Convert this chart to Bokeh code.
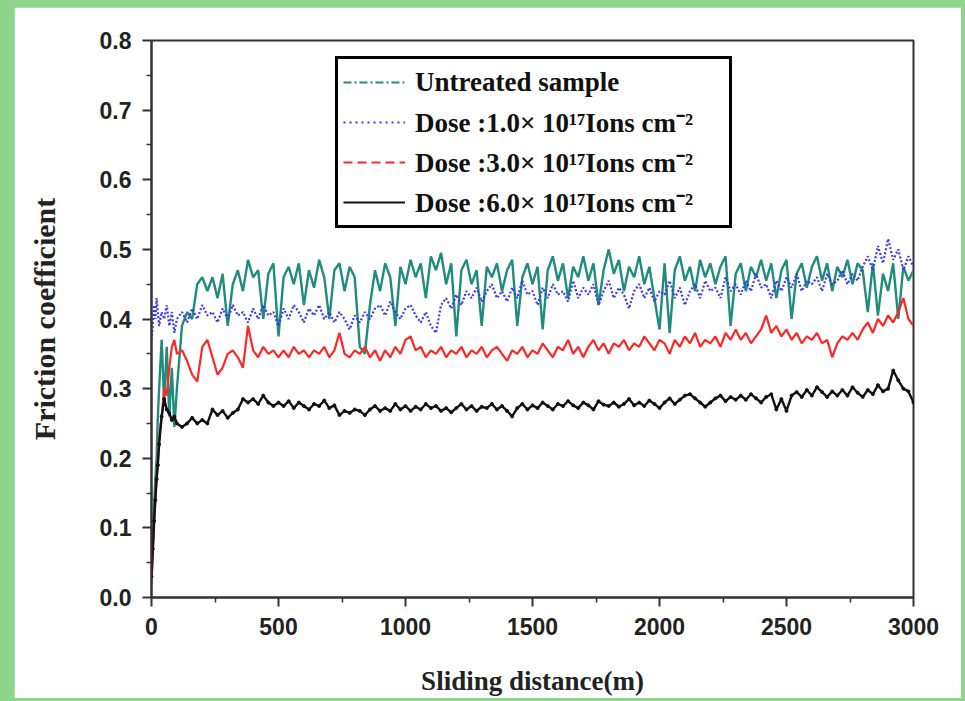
from bokeh.plotting import figure
from bokeh.models import FixedTicker, PrintfTickFormatter, Legend, LegendItem, Range1d
from bokeh.embed import file_html
from bokeh.resources import INLINE

# sliding distance grid (m)
distance = [0, 5, 10, 15, 20, 25, 30, 40, 50, 60, 70, 80, 90, 100] + list(range(120, 3001, 20))

untreated = [
    0.04, 0.08, 0.13, 0.17, 0.20, 0.26, 0.30, 0.37, 0.28, 0.36, 0.26, 0.33, 0.245, 0.30,
    0.39, 0.41, 0.40, 0.45, 0.46,
    0.44, 0.46, 0.43, 0.465, 0.39,
    0.45, 0.47, 0.44, 0.485, 0.46,
    0.47, 0.40, 0.465, 0.48, 0.375,
    0.46, 0.475, 0.45, 0.48, 0.42,
    0.47, 0.445, 0.485, 0.46, 0.40,
    0.47, 0.48, 0.44, 0.475, 0.46,
    0.36, 0.35, 0.42, 0.47, 0.44,
    0.48, 0.46, 0.39, 0.475, 0.45,
    0.485, 0.46, 0.48, 0.43, 0.49,
    0.47, 0.495, 0.45, 0.48, 0.375,
    0.47, 0.485, 0.45, 0.47, 0.39,
    0.475, 0.46, 0.48, 0.44, 0.47,
    0.485, 0.39, 0.46, 0.48, 0.45,
    0.475, 0.385, 0.47, 0.49, 0.455,
    0.48, 0.43, 0.475, 0.46, 0.49,
    0.455, 0.48, 0.42, 0.47, 0.50,
    0.465, 0.485, 0.44, 0.475, 0.46,
    0.49, 0.45, 0.475, 0.43, 0.385,
    0.48, 0.38, 0.47, 0.49, 0.455,
    0.475, 0.44, 0.485, 0.46, 0.48,
    0.45, 0.475, 0.49, 0.39, 0.465,
    0.48, 0.44, 0.475, 0.46, 0.485,
    0.455, 0.48, 0.43, 0.47, 0.485,
    0.40, 0.465, 0.48, 0.445, 0.475,
    0.49, 0.455, 0.48, 0.44, 0.475,
    0.46, 0.485, 0.45, 0.48, 0.47,
    0.41, 0.48, 0.405, 0.465, 0.44,
    0.48, 0.40, 0.475, 0.455, 0.47,
]

dose_1 = [
    0.37, 0.39, 0.42, 0.40, 0.43, 0.41, 0.39, 0.41, 0.40, 0.42, 0.39, 0.41, 0.38, 0.40,
    0.41, 0.395, 0.415, 0.40, 0.42,
    0.405, 0.41, 0.395, 0.415, 0.40,
    0.42, 0.405, 0.41, 0.395, 0.415,
    0.40, 0.42, 0.405, 0.41, 0.39,
    0.415, 0.40, 0.42, 0.41, 0.395,
    0.415, 0.405, 0.42, 0.40, 0.41,
    0.395, 0.41, 0.40, 0.385, 0.405,
    0.395, 0.41, 0.40, 0.415, 0.42,
    0.405, 0.425, 0.41, 0.40, 0.415,
    0.42, 0.405, 0.395, 0.41, 0.39,
    0.38, 0.42, 0.43, 0.415, 0.435,
    0.42, 0.44, 0.43, 0.445, 0.425,
    0.44, 0.45, 0.43, 0.44, 0.425,
    0.445, 0.43, 0.455, 0.435, 0.44,
    0.42, 0.445, 0.43, 0.45, 0.435,
    0.44, 0.425, 0.455, 0.43, 0.445,
    0.435, 0.45, 0.42, 0.44, 0.455,
    0.43, 0.445, 0.435, 0.415, 0.44,
    0.45, 0.43, 0.445, 0.425, 0.44,
    0.435, 0.455, 0.43, 0.445, 0.42,
    0.44, 0.45, 0.43, 0.455, 0.44,
    0.445, 0.43, 0.46, 0.44, 0.45,
    0.435, 0.455, 0.44, 0.465, 0.445,
    0.45, 0.43, 0.455, 0.44, 0.46,
    0.445, 0.465, 0.44, 0.455, 0.45,
    0.46, 0.44, 0.465, 0.45, 0.455,
    0.47, 0.45, 0.465, 0.455, 0.475,
    0.49, 0.47, 0.505, 0.48, 0.515,
    0.485, 0.50, 0.47, 0.49, 0.475,
]

dose_3 = [
    0.02, 0.06, 0.10, 0.14, 0.17, 0.20, 0.23, 0.26, 0.30, 0.29, 0.33, 0.36, 0.37, 0.35,
    0.355, 0.34, 0.32, 0.31, 0.36,
    0.37, 0.345, 0.32, 0.33, 0.35,
    0.355, 0.345, 0.33, 0.39, 0.355,
    0.345, 0.36, 0.35, 0.355, 0.345,
    0.355, 0.345, 0.36, 0.35, 0.355,
    0.345, 0.355, 0.35, 0.36, 0.345,
    0.355, 0.38, 0.35, 0.345, 0.355,
    0.35, 0.36, 0.345, 0.355, 0.34,
    0.355, 0.345, 0.36, 0.35, 0.37,
    0.375, 0.355, 0.36, 0.345, 0.355,
    0.35, 0.36, 0.345, 0.355, 0.35,
    0.36, 0.345, 0.355, 0.35, 0.36,
    0.345, 0.355, 0.36, 0.35, 0.34,
    0.355, 0.35, 0.36, 0.345, 0.355,
    0.35, 0.365, 0.355, 0.345, 0.36,
    0.355, 0.37, 0.35, 0.36, 0.345,
    0.36, 0.37, 0.355, 0.365, 0.35,
    0.365, 0.36, 0.37, 0.355, 0.365,
    0.36, 0.375, 0.365, 0.355, 0.37,
    0.365, 0.35, 0.37, 0.36, 0.375,
    0.365, 0.38, 0.36, 0.37, 0.365,
    0.375, 0.36, 0.38, 0.37, 0.385,
    0.37, 0.38, 0.365, 0.375, 0.385,
    0.405, 0.38, 0.39, 0.375, 0.385,
    0.37, 0.38, 0.365, 0.375, 0.37,
    0.38, 0.365, 0.37, 0.345, 0.365,
    0.375, 0.37, 0.38, 0.37, 0.385,
    0.395, 0.38, 0.40, 0.39, 0.405,
    0.395, 0.41, 0.43, 0.40, 0.39,
]

dose_6 = [
    0.03, 0.07, 0.11, 0.14, 0.17, 0.19, 0.22, 0.26, 0.285, 0.27, 0.265, 0.255, 0.26, 0.25,
    0.245, 0.25, 0.258, 0.25, 0.255,
    0.25, 0.27, 0.262, 0.268, 0.258,
    0.265, 0.27, 0.285, 0.28, 0.285,
    0.278, 0.29, 0.28, 0.275, 0.28,
    0.275, 0.282, 0.272, 0.28, 0.275,
    0.27, 0.278, 0.275, 0.283, 0.272,
    0.276, 0.262, 0.268, 0.265, 0.27,
    0.268, 0.262, 0.27, 0.275, 0.268,
    0.272, 0.268, 0.278, 0.27, 0.275,
    0.268, 0.274, 0.27, 0.278, 0.272,
    0.275, 0.268, 0.272, 0.266, 0.272,
    0.278, 0.27, 0.275, 0.268, 0.274,
    0.272, 0.278, 0.27, 0.275, 0.268,
    0.26, 0.272, 0.278, 0.27, 0.276,
    0.272, 0.28, 0.275, 0.27, 0.278,
    0.275, 0.282, 0.276, 0.272, 0.28,
    0.276, 0.27, 0.282, 0.277, 0.275,
    0.28, 0.274, 0.278, 0.285, 0.276,
    0.28, 0.275, 0.283, 0.278, 0.272,
    0.28, 0.286, 0.278, 0.284, 0.29,
    0.292, 0.286, 0.28, 0.274, 0.28,
    0.286, 0.29, 0.282, 0.288, 0.284,
    0.29, 0.284, 0.292, 0.286, 0.28,
    0.288, 0.292, 0.27, 0.285, 0.268,
    0.29, 0.295, 0.288, 0.298, 0.29,
    0.302, 0.295, 0.288, 0.296, 0.29,
    0.298, 0.29, 0.302, 0.294, 0.288,
    0.298, 0.292, 0.305, 0.296, 0.3,
    0.326, 0.312, 0.3, 0.296, 0.28,
]

labels = [
    "Untreated sample",
    "Dose :1.0\u00d7 10\u00b9\u2077Ions cm\u207b\u00b2",
    "Dose :3.0\u00d7 10\u00b9\u2077Ions cm\u207b\u00b2",
    "Dose :6.0\u00d7 10\u00b9\u2077Ions cm\u207b\u00b2",
]

y_ticks = [0.0, 0.1, 0.2, 0.3, 0.4, 0.5, 0.6, 0.7, 0.8]
y_minor = [0.05, 0.15, 0.25, 0.35, 0.45, 0.55, 0.65, 0.75]
x_ticks = [0, 500, 1000, 1500, 2000, 2500, 3000]
x_minor = [250, 750, 1250, 1750, 2250, 2750]

TEAL = "#1f8c7c"
BLUE = "#3a3af2"
RED = "#ff2626"
BLACK = "#111111"
NAN = float("nan")

p = figure(width=947, height=691, output_backend="svg", toolbar_location=None,
           x_range=Range1d(0, 3000), y_range=Range1d(0, 0.8),
           min_border_left=137, min_border_right=48, min_border_top=33, min_border_bottom=97)
p.background_fill_color = "white"
p.border_fill_color = "white"
p.grid.visible = False
p.outline_line_color = "#333333"
p.outline_line_width = 2

# dense data traces
p.line(distance, untreated, line_color=TEAL, line_width=2.4)
p.line(distance, dose_1, line_color=BLUE, line_width=2.2, line_dash="2 2")
p.line(distance, dose_3, line_color=RED, line_width=2.2)
p.line(distance, dose_6, line_color=BLACK, line_width=2.4)
p.scatter(distance, dose_6, size=3, color=BLACK)

# legend keys carrying the original line styles (no visible data of their own)
k_u = p.line([NAN], [NAN], line_color=TEAL, line_width=2, line_dash="8 3 2 3")
k_1 = p.line([NAN], [NAN], line_color=BLUE, line_width=2, line_dash="2 4")
k_3 = p.line([NAN], [NAN], line_color=RED, line_width=2, line_dash="9 5")
k_6 = p.line([NAN], [NAN], line_color=BLACK, line_width=2)

for ax, ticks, minor, fmt in ((p.yaxis[0], y_ticks, y_minor, "%.1f"), (p.xaxis[0], x_ticks, x_minor, "%d")):
    ax.ticker = FixedTicker(ticks=ticks, minor_ticks=minor)
    ax.formatter = PrintfTickFormatter(format=fmt)
    ax.axis_line_color = "#333333"
    ax.axis_line_width = 2
    ax.major_tick_line_color = "#333333"
    ax.minor_tick_line_color = "#333333"
    ax.major_tick_line_width = 2
    ax.minor_tick_line_width = 1.5
    ax.major_tick_in = 0
    ax.major_tick_out = 9
    ax.minor_tick_in = 0
    ax.minor_tick_out = 5
    ax.major_label_text_font = "Liberation Sans"
    ax.major_label_text_font_style = "bold"
    ax.major_label_text_font_size = "23px"
    ax.major_label_text_color = "#222222"
    ax.axis_label_text_font = "Liberation Serif"
    ax.axis_label_text_font_style = "bold"
    ax.axis_label_text_color = "#222222"

p.yaxis[0].axis_label = "Friction coefficient"
p.yaxis[0].axis_label_text_font_size = "30px"
p.yaxis[0].major_label_standoff = 11
p.yaxis[0].axis_label_standoff = 36
p.xaxis[0].axis_label = "Sliding distance(m)"
p.xaxis[0].axis_label_text_font_size = "27px"
p.xaxis[0].major_label_standoff = 11
p.xaxis[0].axis_label_standoff = 28

legend = Legend(items=[
    LegendItem(label=labels[0], renderers=[k_u]),
    LegendItem(label=labels[1], renderers=[k_1]),
    LegendItem(label=labels[2], renderers=[k_3]),
    LegendItem(label=labels[3], renderers=[k_6]),
], location=(184, 369))
legend.border_line_color = "black"
legend.border_line_alpha = 1
legend.border_line_width = 3
legend.background_fill_alpha = 1
legend.label_text_font = "Liberation Serif"
legend.label_text_font_style = "bold"
legend.label_text_font_size = "27px"
legend.label_text_color = "#111111"
legend.glyph_width = 62
legend.glyph_height = 20
legend.label_height = 36
legend.label_width = 309
legend.label_standoff = 10
legend.spacing = 3
legend.padding = 5
legend.margin = 0
p.add_layout(legend)

html = file_html(p, INLINE)
page_style = ("<style>html, body { background: #8fd58c !important; } "
              "body { margin: 0 !important; padding: 7px 0 0 14px !important; }</style>")
html = html.replace("</head>", page_style + "</head>", 1)
open("out.html", "w").write(html)
